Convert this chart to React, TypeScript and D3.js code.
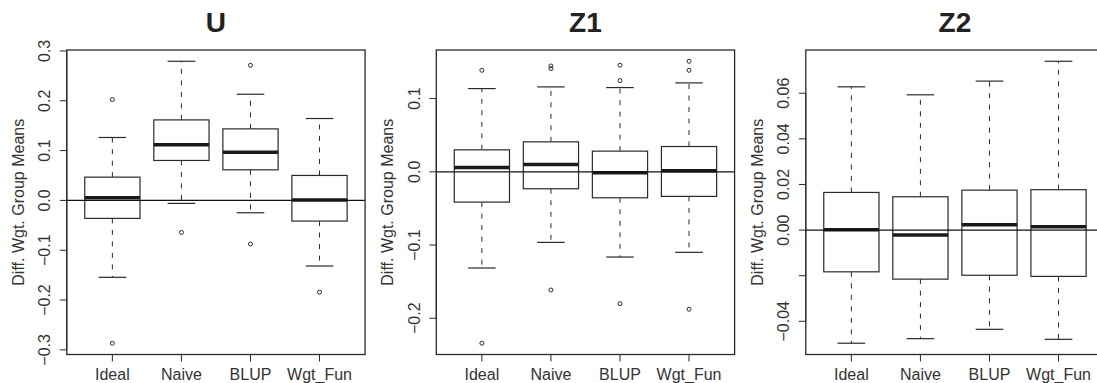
import React from "react";
import * as d3 from "d3";

const categories = ["Ideal", "Naive", "BLUP", "Wgt_Fun"];
const panelTitles = ["U", "Z1", "Z2"];

// [lowerWhisker, Q1, median, Q3, upperWhisker] per category
const statsU = [
  [-0.1544, -0.0361, 0.0052, 0.0467, 0.1263],
  [-0.006, 0.0802, 0.1115, 0.1616, 0.2793],
  [-0.0248, 0.0614, 0.0968, 0.1436, 0.2131],
  [-0.1317, -0.0415, 0.0006, 0.0501, 0.1644],
];
const outliersU = [[0.2025, -0.2867], [-0.0642], [0.2713, -0.0876], [-0.1844]];

const statsZ1 = [
  [-0.1314, -0.0414, 0.0059, 0.03, 0.1136],
  [-0.0964, -0.0232, 0.01, 0.0409, 0.1159],
  [-0.1164, -0.0355, -0.0014, 0.0282, 0.115],
  [-0.11, -0.0336, 0.0014, 0.0345, 0.1214],
];
const outliersZ1 = [[0.1386, -0.2341], [0.1445, 0.1409, -0.1614], [0.1455, 0.1245, -0.18], [0.1509, 0.1386, -0.1877]];

const statsZ2 = [
  [-0.0496, -0.0183, 0.0001, 0.0165, 0.0628],
  [-0.0476, -0.0215, -0.0022, 0.0146, 0.0593],
  [-0.0435, -0.0198, 0.0023, 0.0175, 0.0653],
  [-0.0479, -0.0203, 0.0015, 0.0177, 0.074],
];
const outliersZ2: number[][] = [[], [], [], []];

const ticksU = [-0.3, -0.2, -0.1, 0, 0.1, 0.2, 0.3];
const tickLabelsU = ["−0.3", "−0.2", "−0.1", "0.0", "0.1", "0.2", "0.3"];
const ticksZ1 = [-0.2, -0.1, 0, 0.1];
const tickLabelsZ1 = ["−0.2", "−0.1", "0.0", "0.1"];
const ticksZ2 = [-0.04, -0.02, 0, 0.02, 0.04, 0.06];
const tickLabelsZ2 = ["−0.04", "", "0.00", "0.02", "0.04", "0.06"];

const yTitle = "Diff. Wgt. Group Means";

const panels = [
  { title: panelTitles[0], stats: statsU, outliers: outliersU, ticks: ticksU, labels: tickLabelsU },
  { title: panelTitles[1], stats: statsZ1, outliers: outliersZ1, ticks: ticksZ1, labels: tickLabelsZ1 },
  { title: panelTitles[2], stats: statsZ2, outliers: outliersZ2, ticks: ticksZ2, labels: tickLabelsZ2 },
];

const W = 1097;
const H = 383;
const plotLefts = [66.8, 436.3, 805.8];
const plotW = 298.3;
const plotTop = 50;
const plotBottom = 354.5;
const FONT = "'Liberation Sans', Arial, Helvetica, sans-serif";
const LINE = "#2a2a2a";

function Panel({ p, left }: { p: any; left: number }) {
  const all: number[] = [];
  p.stats.forEach((s: number[]) => all.push(...s));
  p.outliers.forEach((o: number[]) => all.push(...o));
  const [mn, mx] = d3.extent(all) as [number, number];
  const pad = (mx - mn) * 0.04;
  const y = d3.scaleLinear().domain([mn - pad, mx + pad]).range([plotBottom, plotTop]);
  const x = d3.scaleLinear().domain([0.34, categories.length + 0.66]).range([left, left + plotW]);
  const unit = x(1) - x(0);
  const boxHalf = unit * 0.4;
  const capHalf = unit * 0.2;
  const cx = (left + left + plotW) / 2;
  const cy = (plotTop + plotBottom) / 2;
  return (
    <g>
      <text x={cx} y={32} textAnchor="middle" fontFamily={FONT} fontWeight="bold" fontSize={28} fill="#222">
        {p.title}
      </text>
      <text
        transform={`translate(${left - 43.3},${cy}) rotate(-90)`}
        textAnchor="middle"
        fontFamily={FONT}
        fontSize={16}
        fill="#333"
      >
        {yTitle}
      </text>
      {p.ticks.map((t: number, i: number) => (
        <g key={"yt" + i}>
          <line x1={left - 7} x2={left} y1={y(t)} y2={y(t)} stroke={LINE} strokeWidth={1} />
          {p.labels[i] !== "" && (
            <text
              transform={`translate(${left - 16.8},${y(t)}) rotate(-90)`}
              textAnchor="middle"
              fontFamily={FONT}
              fontSize={16}
              fill="#333"
            >
              {p.labels[i]}
            </text>
          )}
        </g>
      ))}
      <line x1={left} x2={left} y1={y(p.ticks[0])} y2={y(p.ticks[p.ticks.length - 1])} stroke={LINE} strokeWidth={1} />
      {categories.map((c, i) => (
        <g key={"xt" + i}>
          <line x1={x(i + 1)} x2={x(i + 1)} y1={plotBottom} y2={plotBottom + 7} stroke={LINE} strokeWidth={1} />
          <text x={x(i + 1)} y={379.5} textAnchor="middle" fontFamily={FONT} fontSize={16} fill="#333">
            {c}
          </text>
        </g>
      ))}
      {p.stats.map((s: number[], i: number) => {
        const xc = x(i + 1);
        const [lo, q1, med, q3, hi] = s;
        return (
          <g key={"b" + i}>
            <line x1={xc} x2={xc} y1={y(q3)} y2={y(hi)} stroke={LINE} strokeWidth={1} strokeDasharray="5,6.5" />
            <line x1={xc} x2={xc} y1={y(q1)} y2={y(lo)} stroke={LINE} strokeWidth={1} strokeDasharray="5,6.5" />
            <line x1={xc - capHalf} x2={xc + capHalf} y1={y(hi)} y2={y(hi)} stroke={LINE} strokeWidth={1.2} />
            <line x1={xc - capHalf} x2={xc + capHalf} y1={y(lo)} y2={y(lo)} stroke={LINE} strokeWidth={1.2} />
            <rect x={xc - boxHalf} y={y(q3)} width={boxHalf * 2} height={y(q1) - y(q3)} fill="white" stroke={LINE} strokeWidth={1.2} />
            <line x1={xc - boxHalf} x2={xc + boxHalf} y1={y(med)} y2={y(med)} stroke="#1a1a1a" strokeWidth={3.5} />
            {p.outliers[i].map((o: number, j: number) => (
              <circle key={j} cx={xc} cy={y(o)} r={2} fill="none" stroke={LINE} strokeWidth={1} />
            ))}
          </g>
        );
      })}
      <line x1={left} x2={left + plotW} y1={y(0)} y2={y(0)} stroke="#111" strokeWidth={1.2} />
      <rect x={left} y={plotTop} width={plotW} height={plotBottom - plotTop} fill="none" stroke={LINE} strokeWidth={1.3} />
    </g>
  );
}

export default function App() {
  return (
    <svg width={W} height={H} style={{ display: "block", position: "absolute", left: 0, top: 0, background: "white" }}>
      <rect x={0} y={0} width={W} height={H} fill="white" />
      {panels.map((p, i) => (
        <Panel key={i} p={p} left={plotLefts[i]} />
      ))}
    </svg>
  );
}
